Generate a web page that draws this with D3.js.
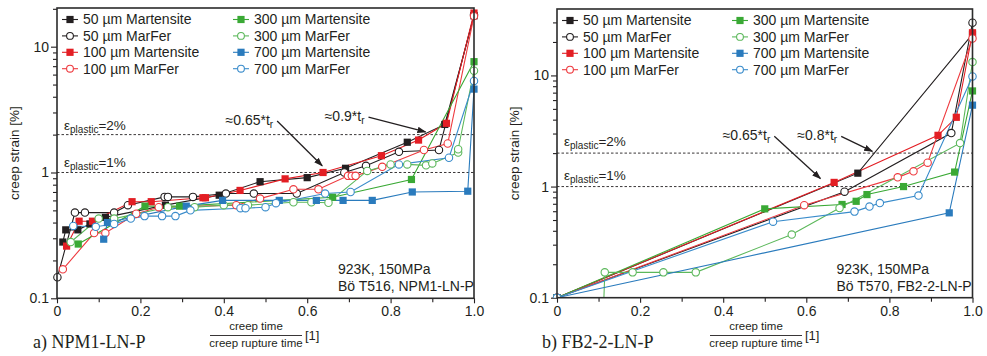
<!DOCTYPE html>
<html>
<head>
<meta charset="utf-8">
<script src="https://cdn.jsdelivr.net/npm/d3@7/dist/d3.min.js"></script>
<style>
body{margin:0;background:#fff}
svg{display:block}
text{font-family:"Liberation Sans",Arial,Helvetica,sans-serif;fill:#231f20}
text.tag{font-family:"Liberation Serif","Times New Roman",serif}
</style>
</head>
<body>
<svg id="fig" width="987" height="356"></svg>
<script>
// series order used by both panels
const seriesNames = ["50 µm Martensite","50 µm MarFer","100 µm Martensite","100 µm MarFer",
                     "300 µm Martensite","300 µm MarFer","700 µm Martensite","700 µm MarFer"];
const seriesColors = ["#231f20","#231f20","#e31e24","#ee3a3f","#3aa935","#5cb85b","#2a7bbd","#3a8ccb"];
const seriesShapes = ["square","circle","square","circle","square","circle","square","circle"];

// ticks
const xTickVals = [0,0.2,0.4,0.6,0.8,1.0];
const xTickLabels = ["0","0.2","0.4","0.6","0.8","1.0"];
const xMinorVals = [0.1,0.3,0.5,0.7,0.9];
const yTickVals = [0.1,1,10];
const yTickLabels = ["0.1","1","10"];
const yMinorVals = [0.2,0.3,0.4,0.5,0.6,0.7,0.8,0.9,2,3,4,5,6,7,8,9,20,30];
const refLevels = [2,1];
const refLabels = ["2%","1%"];

// a) NPM1-LN-P  [creep time / rupture time, creep strain %]
const npm1_50M = [[0.014,0.28],[0.021,0.35],[0.05,0.35],[0.079,0.39],[0.116,0.44],[0.26,0.55],[0.389,0.66],
  [0.487,0.845],[0.6,0.91],[0.692,1.08],[0.84,1.74],[0.93,2.41],[1.0,17.6]];
const npm1_50F = [[0.001,0.147],[0.043,0.48],[0.067,0.48],[0.137,0.48],[0.17,0.55],[0.258,0.64],[0.266,0.64],
  [0.326,0.64],[0.405,0.68],[0.472,0.68],[0.575,0.68],[0.689,1.0],[0.741,1.13],[0.82,1.46],[0.916,1.51],[1.0,17.9]];
const npm1_100M = [[0.023,0.26],[0.053,0.41],[0.085,0.41],[0.18,0.586],[0.226,0.586],[0.35,0.63],[0.356,0.63],
  [0.439,0.72],[0.547,0.89],[0.638,1.0],[0.778,1.36],[0.867,1.81],[0.934,2.46],[1.0,18.5]];
const npm1_100F = [[0.014,0.17],[0.089,0.33],[0.116,0.33],[0.19,0.47],[0.244,0.53],[0.43,0.55],[0.487,0.62],
  [0.567,0.735],[0.627,0.735],[0.698,0.94],[0.707,0.94],[0.716,0.94],[0.78,1.11],[0.88,1.51],[0.937,1.7],[1.0,17.5]];
const npm1_300M = [[0.051,0.27],[0.211,0.54],[0.294,0.54],[0.661,0.635],[0.85,0.88],[1.0,7.6]];
const npm1_300F = [[0.033,0.28],[0.1,0.43],[0.137,0.43],[0.266,0.53],[0.33,0.53],[0.4,0.55],[0.458,0.55],
  [0.567,0.58],[0.61,0.58],[0.651,0.575],[0.744,1.03],[0.8,1.16],[0.84,1.16],[0.885,1.14],[0.9,1.18],
  [0.962,1.44],[0.962,1.53],[1.0,6.45]];
const npm1_700M = [[0.112,0.295],[0.121,0.40],[0.31,0.54],[0.397,0.6],[0.533,0.6],[0.622,0.6],[0.686,0.6],
  [0.756,0.6],[0.852,0.70],[0.985,0.71],[1.0,4.6]];
const npm1_700F = [[0.039,0.376],[0.093,0.37],[0.137,0.39],[0.177,0.43],[0.21,0.45],[0.252,0.45],[0.284,0.45],
  [0.32,0.5],[0.44,0.52],[0.452,0.52],[0.5,0.53],[0.525,0.57],[0.643,0.68],[0.704,0.70],[0.82,1.16],
  [0.94,1.31],[1.0,5.34]];

// b) FB2-2-LN-P
const fb2_50M = [[0,0.1],[0.724,1.32],[1.0,23.5]];
const fb2_50F = [[0,0.1],[0.692,0.90],[0.949,3.03],[1.0,29.8]];
const fb2_100M = [[0,0.1],[0.667,1.09],[0.917,2.89],[0.961,4.2],[1.0,24.2]];
const fb2_100F = [[0,0.1],[0.595,0.68],[0.82,1.21],[0.858,1.37],[0.892,1.64],[1.0,21.5]];
const fb2_300M = [[0,0.1],[0.5,0.63],[0.686,0.69],[0.72,0.737],[0.746,0.847],[0.834,1.0],[0.957,1.35],[1.0,7.25]];
const fb2_300F = [[0.112,0.08],[0.115,0.169],[0.182,0.169],[0.256,0.169],[0.334,0.169],[0.565,0.37],
  [0.68,0.64],[0.97,2.46],[1.0,13.2]];
const fb2_700M = [[0,0.1],[0.944,0.58],[1.0,5.4]];
const fb2_700F = [[0,0.1],[0.52,0.483],[0.716,0.595],[0.752,0.66],[0.777,0.71],[0.87,0.83],[1.0,9.8]];

const svg = d3.select("#fig");

svg.append("defs").append("marker")
  .attr("id","arr").attr("viewBox","0 0 10 10").attr("refX",9).attr("refY",5)
  .attr("markerWidth",7).attr("markerHeight",7).attr("orient","auto-start-reverse")
  .append("path").attr("d","M0,1.5 L10,5 L0,8.5 z").attr("fill","#231f20");

function drawPanel(p){
  const g = svg.append("g");
  const x = d3.scaleLinear().domain([0,1]).range([p.x0,p.x1]);
  const y = d3.scaleLog().domain([0.1,p.yTop]).range([p.y0,p.y1]);

  g.append("clipPath").attr("id","clip"+p.id).append("rect")
    .attr("x",p.x0-6).attr("y",p.y1).attr("width",p.x1-p.x0+12).attr("height",p.y0-p.y1);

  // reference strain levels
  refLevels.forEach((lv,i)=>{
    g.append("line").attr("x1",p.x0).attr("x2",p.x1).attr("y1",y(lv)).attr("y2",y(lv))
      .attr("stroke","#231f20").attr("stroke-width",0.9).attr("stroke-dasharray","2.5,2");
    const t = g.append("text").attr("x",p.x0+7).attr("y",y(lv)-p.refOff).attr("font-size",13.5);
    t.append("tspan").text("ε");
    t.append("tspan").attr("font-size",10).attr("dy",3).text("plastic");
    t.append("tspan").attr("dy",-3).text("="+refLabels[i]);
  });

  // axes
  const xa = g.append("g").attr("transform",`translate(0,${p.y0})`)
    .call(d3.axisBottom(x).tickValues(xTickVals).tickFormat((d,i)=>xTickLabels[i]).tickSize(5).tickPadding(3));
  xa.select(".domain").remove();
  xa.selectAll("text").attr("font-size",14).attr("font-family",null);
  const xm = g.append("g").attr("transform",`translate(0,${p.y0})`)
    .call(d3.axisBottom(x).tickValues(xMinorVals).tickFormat("").tickSize(4));
  xm.select(".domain").remove();

  const ya = g.append("g").attr("transform",`translate(${p.x0},0)`)
    .call(d3.axisLeft(y).tickValues(yTickVals).tickFormat((d,i)=>yTickLabels[i]).tickSize(6).tickPadding(2));
  ya.select(".domain").remove();
  ya.selectAll("text").attr("font-size",14).attr("font-family",null);
  const ym = g.append("g").attr("transform",`translate(${p.x0},0)`)
    .call(d3.axisLeft(y).tickValues(yMinorVals.filter(v=>v<p.yTop)).tickFormat("").tickSize(4));
  ym.select(".domain").remove();
  g.selectAll(".tick line").attr("stroke","#231f20").attr("stroke-width",1.1);

  // series
  const line = d3.line().x(d=>x(d[0])).y(d=>y(d[1]));
  const plot = g.append("g").attr("clip-path",`url(#clip${p.id})`);
  p.data.forEach((ser,i)=>{
    plot.append("path").datum(ser).attr("d",line).attr("fill","none")
      .attr("stroke",seriesColors[i]).attr("stroke-width",1.1);
  });
  p.data.forEach((ser,i)=>{
    const c = seriesColors[i];
    if(seriesShapes[i]==="square"){
      plot.selectAll(null).data(ser).join("rect")
        .attr("x",d=>x(d[0])-3.6).attr("y",d=>y(d[1])-3.6).attr("width",7.2).attr("height",7.2)
        .attr("fill",c);
    } else {
      plot.selectAll(null).data(ser).join("circle")
        .attr("cx",d=>x(d[0])).attr("cy",d=>y(d[1])).attr("r",3.7)
        .attr("fill","#fff").attr("stroke",c).attr("stroke-width",1.1);
    }
  });

  // frame
  g.append("rect").attr("x",p.x0).attr("y",p.y1).attr("width",p.x1-p.x0).attr("height",p.y0-p.y1)
    .attr("fill","none").attr("stroke","#2b2b2b").attr("stroke-width",1.6);

  // legend
  seriesNames.forEach((nm,i)=>{
    const col = Math.floor(i/4), row = i%4;
    const lx = p.x0 + 13 + col*p.legCol, ly = p.y1 + 11.5 + row*16.4;
    const c = seriesColors[i];
    g.append("line").attr("x1",lx-8).attr("x2",lx+8).attr("y1",ly).attr("y2",ly)
      .attr("stroke",c).attr("stroke-width",1.1);
    if(seriesShapes[i]==="square"){
      g.append("rect").attr("x",lx-3.6).attr("y",ly-3.6).attr("width",7.2).attr("height",7.2).attr("fill",c);
    } else {
      g.append("circle").attr("cx",lx).attr("cy",ly).attr("r",3.4).attr("fill","#fff")
        .attr("stroke",c).attr("stroke-width",1.1);
    }
    g.append("text").attr("x",lx+13).attr("y",ly+4.8).attr("font-size",14).text(nm);
  });

  // annotations (positions in data units)
  p.notes.forEach(n=>{
    const sx = x(n.from[0]), sy = y(n.from[1]);
    g.append("line").attr("x1",sx).attr("y1",sy).attr("x2",x(n.to[0])).attr("y2",y(n.to[1]))
      .attr("stroke","#231f20").attr("stroke-width",1.3).attr("marker-end","url(#arr)");
    const t = g.append("text").attr("x",sx-4).attr("y",sy+4).attr("text-anchor","end").attr("font-size",14);
    t.append("tspan").text(n.label);
    t.append("tspan").attr("font-size",10).attr("dy",3).text("r");
  });

  // test conditions
  p.info.forEach((s,i)=>{
    g.append("text").attr("x",p.x1-136).attr("y",p.y0-24+i*17).attr("font-size",14).text(s);
  });

  // y label
  g.append("text").attr("transform",`translate(${p.x0-38},${(p.y0+p.y1)/2}) rotate(-90)`)
    .attr("text-anchor","middle").attr("font-size",13.5).text("creep strain [%]");

  // x label as fraction
  const fx = p.x0 + 199;
  g.append("text").attr("x",fx).attr("y",330).attr("text-anchor","middle").attr("font-size",11.5).text("creep time");
  g.append("line").attr("x1",fx-46).attr("x2",fx+46).attr("y1",335.5).attr("y2",335.5)
    .attr("stroke","#231f20").attr("stroke-width",0.9);
  g.append("text").attr("x",fx).attr("y",346.5).attr("text-anchor","middle").attr("font-size",11.5).text("creep rupture time");
  g.append("text").attr("x",fx+49).attr("y",340).attr("font-size",13).text("[1]");

  // panel tag
  g.append("text").attr("class","tag").attr("x",p.tagX).attr("y",348).attr("font-size",18).text(p.tag);
}

drawPanel({
  id:"a", x0:57, x1:474, y0:298.3, y1:8, yTop:20.3, legCol:171, refOff:5, tagX:33,
  data:[npm1_50M,npm1_50F,npm1_100M,npm1_100F,npm1_300M,npm1_300F,npm1_700M,npm1_700F],
  notes:[{label:"≈0.65*t", from:[0.528,2.57], to:[0.636,1.13]},
         {label:"≈0.9*t", from:[0.747,2.76], to:[0.884,2.1]}],
  info:["923K, 150MPa","Bö T516, NPM1-LN-P"],
  tag:"a) NPM1-LN-P"
});

drawPanel({
  id:"b", x0:557, x1:972.5, y0:297.7, y1:9, yTop:39.6, legCol:170, refOff:7, tagX:542,
  data:[fb2_50M,fb2_50F,fb2_100M,fb2_100F,fb2_300M,fb2_300F,fb2_700M,fb2_700F],
  notes:[{label:"≈0.65*t", from:[0.523,2.83], to:[0.634,1.18]},
         {label:"≈0.8*t", from:[0.684,2.83], to:[0.759,2.07]}],
  info:["923K, 150MPa","Bö T570, FB2-2-LN-P"],
  tag:"b) FB2-2-LN-P"
});
</script>
</body>
</html>
